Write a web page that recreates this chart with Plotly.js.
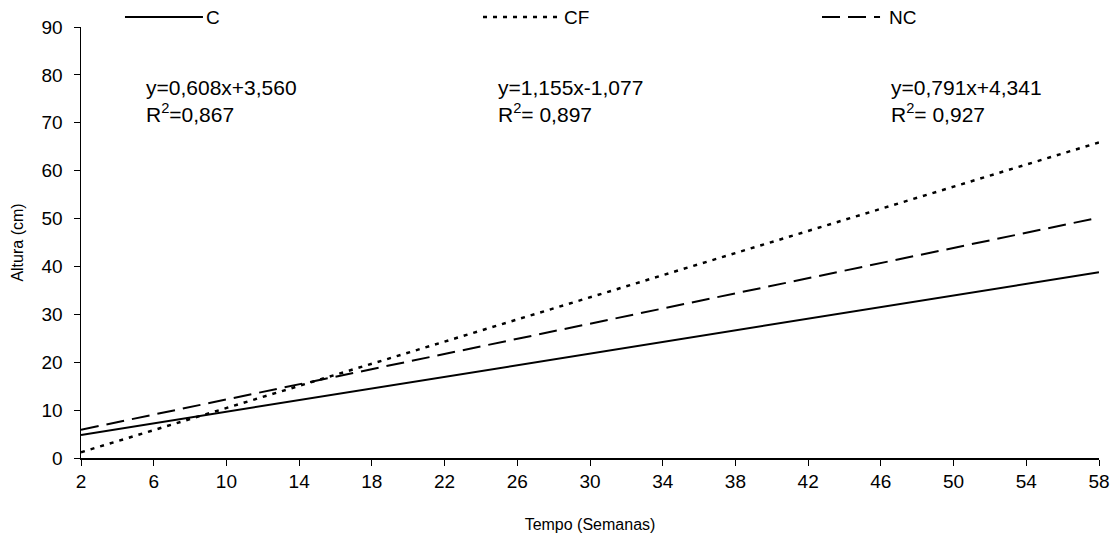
<!DOCTYPE html>
<html>
<head>
<meta charset="utf-8">
<script src="https://cdn.plot.ly/plotly-3.0.1.min.js"></script>
<style>
  html, body { margin: 0; padding: 0; background: #ffffff; }
  #chart { width: 1118px; height: 540px; }
</style>
</head>
<body>
<div id="chart"></div>
<script>
// Data (straight regression lines: values at start and end week)
const semanas = [2, 58];
const alturaC = [4.8, 38.8];
const alturaCF = [1.2, 65.9];
const alturaNC = [5.9, 50.2];

const seriesNames = ['C', 'CF', 'NC'];
const equations = ['y=0,608x+3,560', 'y=1,155x-1,077', 'y=0,791x+4,341'];
const r2Labels = ['R<sup>2</sup>=0,867', 'R<sup>2</sup>= 0,897', 'R<sup>2</sup>= 0,927'];

const xTicks = [2, 6, 10, 14, 18, 22, 26, 30, 34, 38, 42, 46, 50, 54, 58];
const yTicks = [0, 10, 20, 30, 40, 50, 60, 70, 80, 90];

const FONT = 'Liberation Sans, Arial, sans-serif';
const dashes = ['solid', '4px,6px', '18px,8px'];
const widths = [2, 2.5, 2];
const seriesY = [alturaC, alturaCF, alturaNC];

const traces = seriesNames.map((n, i) => ({
  x: semanas,
  y: seriesY[i],
  name: n,
  type: 'scatter',
  mode: 'lines',
  line: { color: '#000000', width: widths[i], dash: dashes[i] },
  showlegend: false,
  hoverinfo: 'skip'
}));

// Legend keys (positions in paper coordinates)
const legX0 = [0.0432, 0.3949, 0.7279];
const legX1 = [0.1198, 0.4705, 0.7849];
const legTxt = [0.1208, 0.4725, 0.7917];
const legY = 1.0232;

const shapes = seriesNames.map((n, i) => ({
  type: 'line', xref: 'paper', yref: 'paper',
  x0: legX0[i], x1: legX1[i], y0: legY, y1: legY,
  line: { color: '#000000', width: widths[i], dash: dashes[i] }
}));

const eqX = [0.0619, 0.4076, 0.7937];
const annotations = [];
seriesNames.forEach((n, i) => {
  annotations.push({
    xref: 'paper', yref: 'paper', x: legTxt[i], y: legY,
    xanchor: 'left', yanchor: 'middle', showarrow: false,
    text: n, font: { family: FONT, size: 19, color: '#000000' }
  });
  annotations.push({
    xref: 'paper', yref: 'paper', x: eqX[i], y: 0.8585,
    xanchor: 'left', yanchor: 'middle', showarrow: false,
    text: equations[i], font: { family: FONT, size: 21, color: '#000000' }
  });
  annotations.push({
    xref: 'paper', yref: 'paper', x: eqX[i], y: 0.8005,
    xanchor: 'left', yanchor: 'middle', showarrow: false,
    text: r2Labels[i], font: { family: FONT, size: 21, color: '#000000' }
  });
});

const layout = {
  width: 1118,
  height: 540,
  margin: { l: 81, r: 19, t: 27, b: 82 },
  paper_bgcolor: '#ffffff',
  plot_bgcolor: '#ffffff',
  font: { family: FONT, color: '#000000' },
  showlegend: false,
  xaxis: {
    range: [2, 58],
    tickmode: 'array',
    tickvals: xTicks,
    ticktext: xTicks.map(String),
    ticks: 'outside', ticklen: 6, tickwidth: 1, tickcolor: '#000000',
    showline: true, linecolor: '#000000', linewidth: 1.5,
    showgrid: false, zeroline: false,
    tickfont: { family: FONT, size: 19, color: '#000000' },
    title: { text: 'Tempo (Semanas)', font: { family: FONT, size: 16, color: '#000000' }, standoff: 27 }
  },
  yaxis: {
    range: [0, 90],
    tickmode: 'array',
    tickvals: yTicks,
    ticktext: yTicks.map(String),
    ticks: 'outside', ticklen: 6, tickwidth: 1, tickcolor: '#000000',
    ticklabelstandoff: 7,
    showline: true, linecolor: '#000000', linewidth: 1.5,
    showgrid: false, zeroline: false,
    tickfont: { family: FONT, size: 19, color: '#000000' },
    title: { text: 'Altura (cm)', font: { family: FONT, size: 16, color: '#000000' }, standoff: 14 }
  },
  shapes: shapes,
  annotations: annotations
};

Plotly.newPlot('chart', traces, layout, { displayModeBar: false, staticPlot: true });
</script>
</body>
</html>
